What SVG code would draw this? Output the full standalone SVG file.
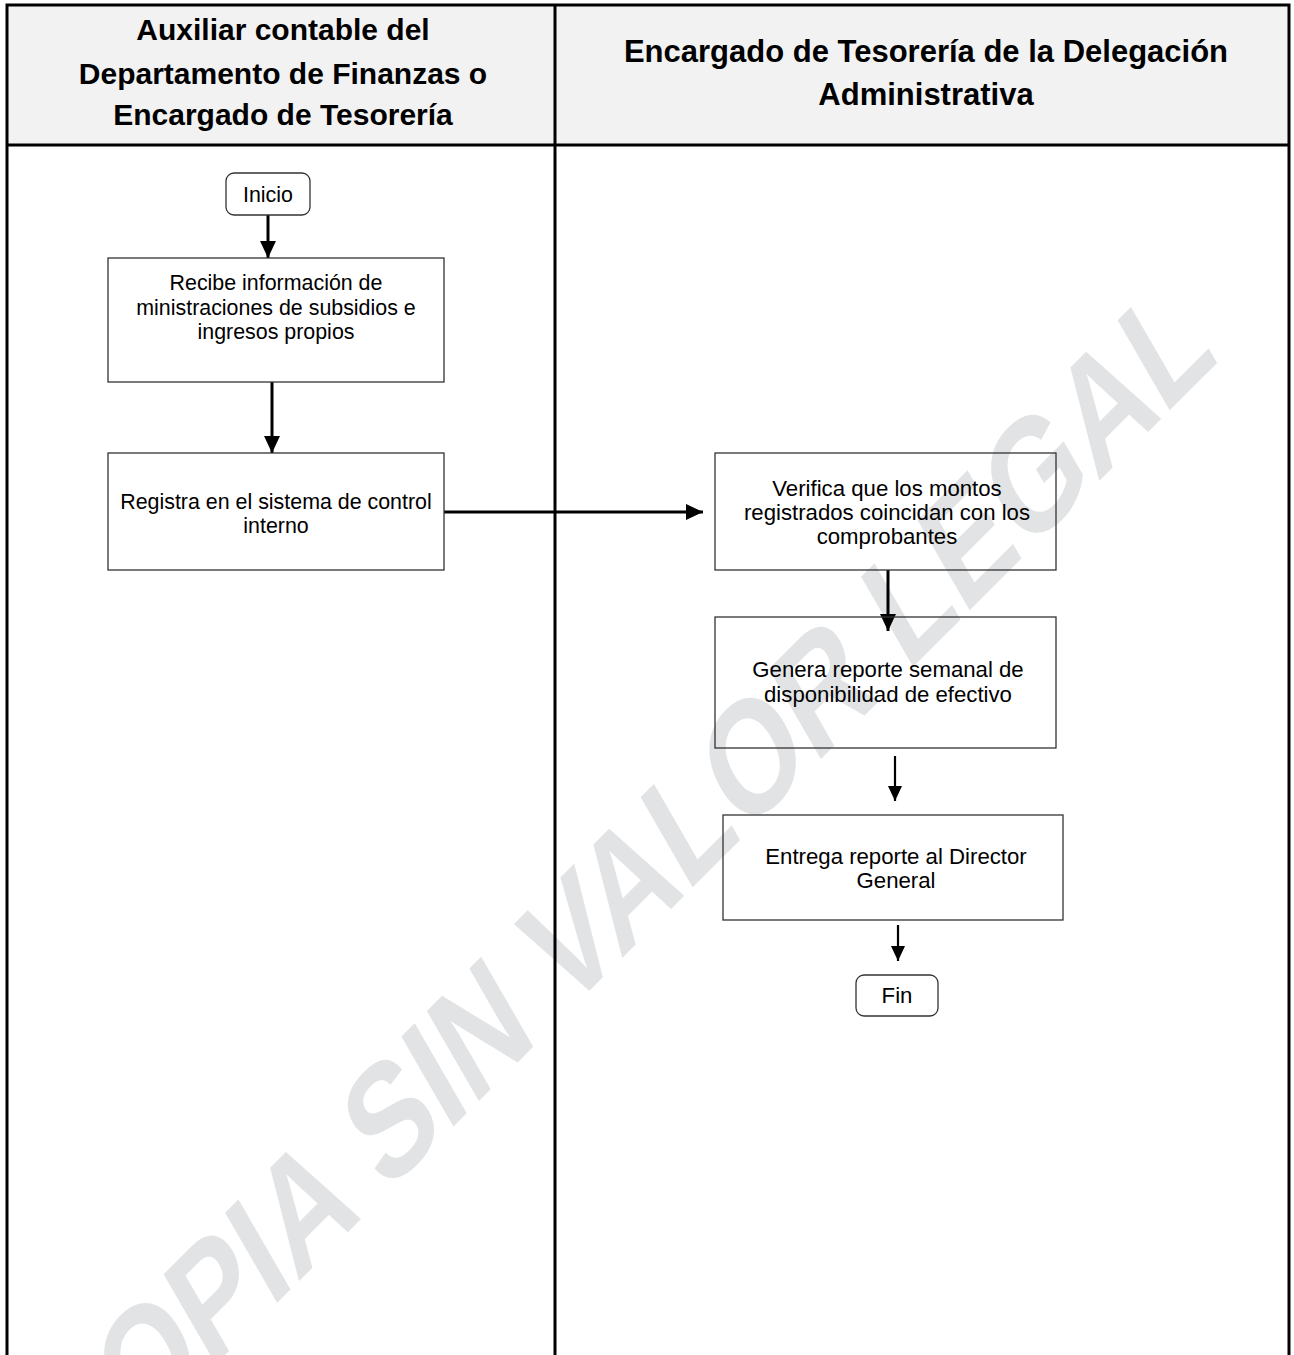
<svg xmlns="http://www.w3.org/2000/svg" width="1294" height="1355" viewBox="0 0 1294 1355">
<defs>
<style>
.hdr{font-family:"Liberation Sans",Arial,sans-serif;font-weight:bold;font-size:30px;fill:#000;text-anchor:middle}
.hdr2{font-family:"Liberation Sans",Arial,sans-serif;font-weight:bold;font-size:31px;fill:#000;text-anchor:middle}
.t{font-family:"Liberation Sans",Arial,sans-serif;font-size:21.4px;fill:#000;text-anchor:middle}
.tr{font-family:"Liberation Sans",Arial,sans-serif;font-size:22.2px;fill:#000;text-anchor:middle}
.box{fill:none;stroke:#333;stroke-width:1.3}
.grid{stroke:#000;stroke-width:3;fill:none}
.conn{stroke:#000;stroke-width:3;fill:none}
.conn2{stroke:#000;stroke-width:2.2;fill:none}
.wm{font-family:"Liberation Sans",Arial,sans-serif;font-weight:bold;font-size:146px;fill:#e2e3e5;text-anchor:end}
</style>
<marker id="ah" markerWidth="17" markerHeight="16" refX="17" refY="8" orient="auto" markerUnits="userSpaceOnUse">
<path d="M0,0 L17,8 L0,16 Z" fill="#000"/>
</marker>
<marker id="ah2" markerWidth="15" markerHeight="14" refX="15" refY="7" orient="auto" markerUnits="userSpaceOnUse">
<path d="M0,0 L15,7 L0,14 Z" fill="#000"/>
</marker>
</defs>
<rect x="0" y="0" width="1294" height="1355" fill="#fff"/>
<rect x="7" y="5" width="1282" height="140" fill="#f2f2f2"/>
<g id="watermark">
<text class="wm" transform="translate(1220,360) rotate(-45) skewX(-15)" textLength="1625" lengthAdjust="spacingAndGlyphs">COPIA SIN VALOR LEGAL</text>
</g>
<g id="table">
<path class="grid" d="M7,1355 V5 H1289 V1355 M7,145 H1289 M555,5 V1355"/>
<text class="hdr" x="283" y="40">Auxiliar contable del</text>
<text class="hdr" x="283" y="84">Departamento de Finanzas o</text>
<text class="hdr" x="283" y="125">Encargado de Tesorería</text>
<text class="hdr2" x="926" y="62">Encargado de Tesorería de la Delegación</text>
<text class="hdr2" x="926" y="105">Administrativa</text>
</g>
<g id="connectors">
<line class="conn" x1="268" y1="215" x2="268" y2="258" marker-end="url(#ah)"/>
<line class="conn" x1="272" y1="382" x2="272" y2="453" marker-end="url(#ah)"/>
<line class="conn" x1="444" y1="512" x2="703" y2="512" marker-end="url(#ah)"/>
<line class="conn" x1="888" y1="570" x2="888" y2="631" marker-end="url(#ah)"/>
<line class="conn2" x1="895" y1="756" x2="895" y2="801" marker-end="url(#ah2)"/>
<line class="conn2" x1="898" y1="925" x2="898" y2="961" marker-end="url(#ah2)"/>
</g>
<g id="inicio">
<rect class="box" x="226" y="173" width="84" height="42" rx="8"/>
<text class="t" x="268" y="202">Inicio</text>
</g>
<g id="recibe">
<rect class="box" x="108" y="258" width="336" height="124"/>
<text class="t" x="276" y="290">Recibe información de</text>
<text class="t" x="276" y="315">ministraciones de subsidios e</text>
<text class="t" x="276" y="339">ingresos propios</text>
</g>
<g id="registra">
<rect class="box" x="108" y="453" width="336" height="117"/>
<text class="t" x="276" y="509">Registra en el sistema de control</text>
<text class="t" x="276" y="533">interno</text>
</g>
<g id="verifica">
<rect class="box" x="715" y="453" width="341" height="117"/>
<text class="tr" x="887" y="496">Verifica que los montos</text>
<text class="tr" x="887" y="520">registrados coincidan con los</text>
<text class="tr" x="887" y="544">comprobantes</text>
</g>
<g id="genera">
<rect class="box" x="715" y="617" width="341" height="131"/>
<text class="tr" x="888" y="677">Genera reporte semanal de</text>
<text class="tr" x="888" y="702">disponibilidad de efectivo</text>
</g>
<g id="entrega">
<rect class="box" x="723" y="815" width="340" height="105"/>
<text class="tr" x="896" y="864">Entrega reporte al Director</text>
<text class="tr" x="896" y="888">General</text>
</g>
<g id="fin">
<rect class="box" x="856" y="975" width="82" height="41" rx="8"/>
<text class="tr" x="897" y="1003">Fin</text>
</g>
</svg>
